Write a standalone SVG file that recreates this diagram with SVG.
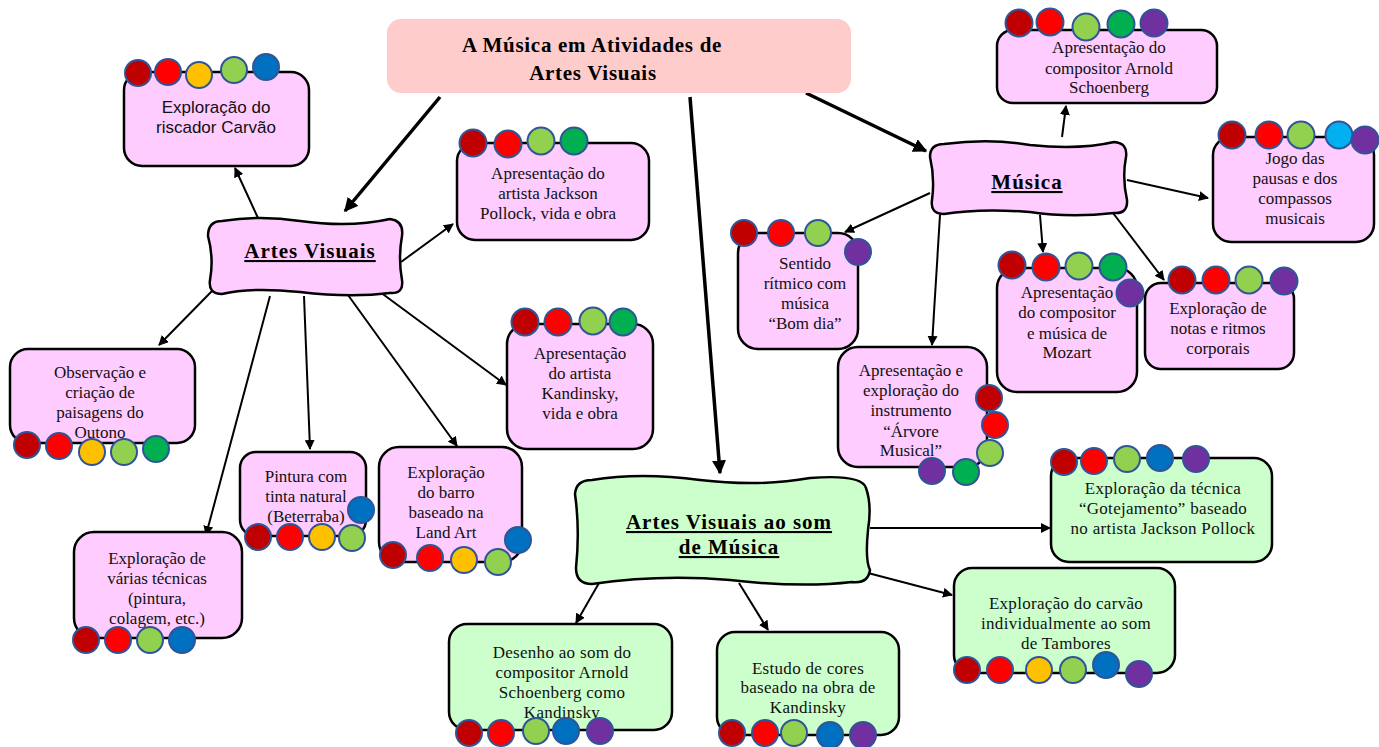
<svg xmlns="http://www.w3.org/2000/svg" width="1379" height="747" viewBox="0 0 1379 747">
<defs>
<marker id="ah" viewBox="0 0 10 10" refX="9" refY="5" markerWidth="5" markerHeight="5" orient="auto" markerUnits="strokeWidth"><path d="M0,0 L10,5 L0,10 Z" fill="#000"/></marker>
<marker id="ahb" viewBox="0 0 10 10" refX="9" refY="5" markerWidth="4" markerHeight="4" orient="auto" markerUnits="strokeWidth"><path d="M0,0 L10,5 L0,10 Z" fill="#000"/></marker>
</defs>
<style>
.pk{fill:#FFCCFF;stroke:#000;stroke-width:2.5}
.gr{fill:#CCFFCC;stroke:#000;stroke-width:2.5}
.t{font-family:"Liberation Serif","Times New Roman",serif;font-size:17px;fill:#111;text-anchor:middle}
.tg{font-family:"Liberation Serif","Times New Roman",serif;font-size:17px;letter-spacing:0.3px;fill:#111;text-anchor:middle}
.ts{font-family:"Liberation Sans",Arial,sans-serif;font-size:17px;fill:#111;text-anchor:middle}
.tb{font-family:"Liberation Serif","Times New Roman",serif;font-size:21px;letter-spacing:0.7px;font-weight:bold;fill:#000;text-anchor:middle}
.tu{font-family:"Liberation Serif","Times New Roman",serif;font-size:21px;letter-spacing:1px;font-weight:bold;fill:#000;text-anchor:middle;text-decoration:underline}
.ln{stroke:#000;stroke-width:2;fill:none;marker-end:url(#ah)}
.lb{stroke:#000;stroke-width:3.5;fill:none;marker-end:url(#ahb)}
circle{stroke:#2F5597;stroke-width:2}
.c1{fill:#C00000}.c2{fill:#FF0000}.c3{fill:#FFC000}.c4{fill:#92D050}.c5{fill:#00B050}.c6{fill:#0070C0}.c7{fill:#7030A0}.c8{fill:#00B0F0}
</style>
<rect width="1379" height="747" fill="#fff"/>

<g id="connectors">
<line class="lb" x1="440" y1="97" x2="345" y2="211"/>
<line class="lb" x1="806" y1="93" x2="926" y2="151"/>
<line class="lb" x1="690" y1="97" x2="720" y2="473"/>
<line class="ln" x1="258" y1="218" x2="235" y2="168"/>
<line class="ln" x1="401" y1="262" x2="453" y2="224"/>
<line class="ln" x1="212" y1="291" x2="159" y2="345"/>
<line class="ln" x1="270" y1="296" x2="206" y2="535"/>
<line class="ln" x1="304" y1="296" x2="310" y2="449"/>
<line class="ln" x1="348" y1="295" x2="457" y2="446"/>
<line class="ln" x1="380" y1="292" x2="506" y2="385"/>
<line class="ln" x1="1062" y1="137" x2="1066" y2="106"/>
<line class="ln" x1="1127" y1="180" x2="1208" y2="198"/>
<line class="ln" x1="930" y1="193" x2="845" y2="232"/>
<line class="ln" x1="940" y1="215" x2="932" y2="345"/>
<line class="ln" x1="1040" y1="215" x2="1043" y2="252"/>
<line class="ln" x1="1113" y1="213" x2="1164" y2="280"/>
<line class="ln" x1="870" y1="528" x2="1050" y2="528"/>
<line class="ln" x1="868" y1="573" x2="952" y2="595"/>
<line class="ln" x1="599" y1="583" x2="576" y2="623"/>
<line class="ln" x1="739" y1="583" x2="768" y2="630"/>
</g>

<g id="title">
<rect x="387" y="19" width="464" height="74" rx="14" fill="#FFCCCC"/>
<text class="tb" x="592" y="52">A Música em Atividades de</text>
<text class="tb" x="593" y="80">Artes Visuais</text>
</g>

<g id="artes-visuais">
<path class="pk" d="M222 221 Q260 215 300 221 Q350 228 390 219 Q404 221 402 236 Q398 258 402 280 Q404 294 390 293 Q350 298 300 292 Q250 287 222 294 Q208 294 210 280 Q214 258 208 236 Q208 221 222 221 Z"/>
<text class="tu" x="310" y="258">Artes Visuais</text>
</g>

<g id="musica">
<path class="pk" d="M944 144 Q990 138 1030 145 Q1080 150 1114 142 Q1128 143 1126 157 Q1122 178 1127 200 Q1128 214 1114 213 Q1070 218 1030 212 Q980 208 944 214 Q930 214 932 200 Q935 178 930 157 Q930 144 944 144 Z"/>
<text class="tu" x="1027" y="189">Música</text>
</g>

<g id="artes-visuais-som">
<path class="gr" d="M592 480 Q640 472 700 480 Q760 487 810 478 Q862 474 866 488 Q872 505 868 530 Q865 560 870 570 Q868 584 852 582 Q800 588 730 580 Q660 574 592 584 Q576 584 576 568 Q580 530 575 494 Q576 480 592 480 Z"/>
<text class="tu" x="729" y="529">Artes Visuais ao som</text>
<text class="tu" x="729" y="554">de Música</text>
</g>

<g id="carvao">
<rect class="pk" x="124" y="72" width="185" height="94" rx="18"/>
<circle class="c1" cx="138" cy="73" r="13"/><circle class="c2" cx="168" cy="72" r="13"/><circle class="c3" cx="199" cy="75" r="13"/><circle class="c4" cx="234" cy="70" r="13"/><circle class="c6" cx="266" cy="67" r="13"/>
<text class="ts" x="216" y="113">Exploração do</text>
<text class="ts" x="216" y="133">riscador Carvão</text>
</g>

<g id="pollock">
<rect class="pk" x="457" y="143" width="192" height="97" rx="18"/>
<circle class="c1" cx="473" cy="143" r="13.5"/><circle class="c2" cx="508" cy="144" r="13.5"/><circle class="c4" cx="541" cy="141" r="13.5"/><circle class="c5" cx="574" cy="141" r="13.5"/>
<text class="t" x="548" y="179">Apresentação do</text>
<text class="t" x="548" y="199">artista Jackson</text>
<text class="t" x="548" y="219">Pollock, vida e obra</text>
</g>

<g id="kandinsky">
<rect class="pk" x="507" y="324" width="146" height="125" rx="20"/>
<circle class="c1" cx="525" cy="322" r="13.5"/><circle class="c2" cx="558" cy="322" r="13.5"/><circle class="c4" cx="593" cy="321" r="13.5"/><circle class="c5" cx="623" cy="322" r="13.5"/>
<text class="t" x="580" y="359">Apresentação</text>
<text class="t" x="580" y="379">do artista</text>
<text class="t" x="580" y="399">Kandinsky,</text>
<text class="t" x="580" y="419">vida e obra</text>
</g>

<g id="observacao">
<rect class="pk" x="10" y="349" width="185" height="94" rx="18"/>
<text class="t" x="100" y="378">Observação e</text>
<text class="t" x="100" y="398">criação de</text>
<text class="t" x="100" y="418">paisagens do</text>
<text class="t" x="100" y="438">Outono</text>
<circle class="c1" cx="27" cy="445" r="13"/><circle class="c2" cx="59" cy="446" r="13"/><circle class="c3" cx="92" cy="452" r="13"/><circle class="c4" cx="124" cy="452" r="13"/><circle class="c5" cx="156" cy="449" r="13"/>
</g>

<g id="pintura">
<rect class="pk" x="240" y="452" width="126" height="84" rx="16"/>
<text class="t" x="306" y="482">Pintura com</text>
<text class="t" x="306" y="502">tinta natural</text>
<text class="t" x="306" y="522">(Beterraba)</text>
<circle class="c6" cx="361" cy="510" r="13"/>
<circle class="c1" cx="258" cy="537" r="13"/><circle class="c2" cx="290" cy="537" r="13"/><circle class="c3" cx="322" cy="537" r="13"/><circle class="c4" cx="352" cy="538" r="13"/>
</g>

<g id="barro">
<rect class="pk" x="379" y="447" width="143" height="115" rx="20"/>
<text class="t" x="446" y="478">Exploração</text>
<text class="t" x="446" y="498">do barro</text>
<text class="t" x="446" y="518">baseado na</text>
<text class="t" x="446" y="538">Land Art</text>
<circle class="c6" cx="518" cy="540" r="13"/>
<circle class="c1" cx="393" cy="555" r="13"/><circle class="c2" cx="430" cy="558" r="13"/><circle class="c3" cx="464" cy="560" r="13"/><circle class="c4" cx="498" cy="562" r="13"/>
</g>

<g id="varias">
<rect class="pk" x="74" y="532" width="168" height="106" rx="20"/>
<text class="t" x="157" y="564">Exploração de</text>
<text class="t" x="157" y="584">várias técnicas</text>
<text class="t" x="157" y="604">(pintura,</text>
<text class="t" x="157" y="624">colagem, etc.)</text>
<circle class="c1" cx="86" cy="640" r="13"/><circle class="c2" cx="118" cy="640" r="13"/><circle class="c4" cx="150" cy="640" r="13"/><circle class="c6" cx="182" cy="640" r="13"/>
</g>

<g id="schoenberg">
<rect class="pk" x="997" y="30" width="220" height="73" rx="16"/>
<circle class="c1" cx="1019" cy="23" r="13.5"/><circle class="c2" cx="1050" cy="22" r="13.5"/><circle class="c4" cx="1086" cy="27" r="13.5"/><circle class="c5" cx="1121" cy="24" r="13.5"/><circle class="c7" cx="1154" cy="23" r="13.5"/>
<text class="t" x="1109" y="53">Apresentação do</text>
<text class="t" x="1109" y="74">compositor Arnold</text>
<text class="t" x="1109" y="93">Schoenberg</text>
</g>

<g id="jogo">
<rect class="pk" x="1213" y="137" width="161" height="105" rx="18"/>
<circle class="c1" cx="1232" cy="135" r="13.5"/><circle class="c2" cx="1269" cy="135" r="13.5"/><circle class="c4" cx="1301" cy="135" r="13.5"/><circle class="c8" cx="1339" cy="135" r="13.5"/><circle class="c7" cx="1365" cy="140" r="13.5"/>
<text class="t" x="1295" y="164">Jogo das</text>
<text class="t" x="1295" y="184">pausas e dos</text>
<text class="t" x="1295" y="204">compassos</text>
<text class="t" x="1295" y="224">musicais</text>
</g>

<g id="sentido">
<rect class="pk" x="738" y="233" width="120" height="116" rx="20"/>
<circle class="c1" cx="744" cy="233" r="13"/><circle class="c2" cx="781" cy="233" r="13"/><circle class="c4" cx="818" cy="233" r="13"/><circle class="c7" cx="858" cy="252" r="13"/>
<text class="t" x="805" y="269">Sentido</text>
<text class="t" x="805" y="289">rítmico com</text>
<text class="t" x="805" y="309">música</text>
<text class="t" x="805" y="329">“Bom dia”</text>
</g>

<g id="arvore">
<rect class="pk" x="838" y="347" width="149" height="120" rx="20"/>
<text class="t" x="911" y="376">Apresentação e</text>
<text class="t" x="911" y="396">exploração do</text>
<text class="t" x="911" y="416">instrumento</text>
<text class="t" x="911" y="437">“Árvore</text>
<text class="t" x="911" y="456">Musical”</text>
<circle class="c1" cx="989" cy="398" r="13"/><circle class="c2" cx="995" cy="425" r="13"/><circle class="c4" cx="990" cy="453" r="13"/>
<circle class="c7" cx="932" cy="471" r="13"/><circle class="c5" cx="966" cy="472" r="13"/>
</g>

<g id="mozart">
<rect class="pk" x="997" y="268" width="140" height="124" rx="20"/>
<circle class="c1" cx="1012" cy="265" r="13.5"/><circle class="c2" cx="1046" cy="267" r="13.5"/><circle class="c4" cx="1079" cy="266" r="13.5"/><circle class="c5" cx="1113" cy="267" r="13.5"/><circle class="c7" cx="1130" cy="293" r="13.5"/>
<text class="t" x="1067" y="298">Apresentação</text>
<text class="t" x="1067" y="318">do compositor</text>
<text class="t" x="1067" y="339">e música de</text>
<text class="t" x="1067" y="358">Mozart</text>
</g>

<g id="notas">
<rect class="pk" x="1145" y="283" width="149" height="86" rx="16"/>
<circle class="c1" cx="1182" cy="280" r="13.5"/><circle class="c2" cx="1216" cy="280" r="13.5"/><circle class="c4" cx="1249" cy="280" r="13.5"/><circle class="c7" cx="1284" cy="281" r="13.5"/>
<text class="t" x="1218" y="314">Exploração de</text>
<text class="t" x="1218" y="334">notas e ritmos</text>
<text class="t" x="1218" y="354">corporais</text>
</g>

<g id="gotejamento">
<rect class="gr" x="1051" y="458" width="221" height="104" rx="18"/>
<circle class="c1" cx="1064" cy="462" r="13"/><circle class="c2" cx="1094" cy="461" r="13"/><circle class="c4" cx="1127" cy="459" r="13"/><circle class="c6" cx="1160" cy="458" r="13"/><circle class="c7" cx="1196" cy="459" r="13"/>
<text class="tg" x="1163" y="494">Exploração da técnica</text>
<text class="tg" x="1163" y="514">“Gotejamento” baseado</text>
<text class="tg" x="1163" y="534">no artista Jackson Pollock</text>
</g>

<g id="tambores">
<rect class="gr" x="954" y="568" width="221" height="105" rx="18"/>
<text class="tg" x="1066" y="609">Exploração do carvão</text>
<text class="tg" x="1066" y="629">individualmente ao som</text>
<text class="tg" x="1066" y="649">de Tambores</text>
<circle class="c1" cx="967" cy="670" r="13"/><circle class="c2" cx="1000" cy="670" r="13"/><circle class="c3" cx="1039" cy="670" r="13"/><circle class="c4" cx="1073" cy="670" r="13"/><circle class="c6" cx="1106" cy="665" r="13"/><circle class="c7" cx="1139" cy="674" r="13"/>
</g>

<g id="desenho">
<rect class="gr" x="449" y="624" width="223" height="106" rx="18"/>
<text class="tg" x="562" y="658">Desenho ao som do</text>
<text class="tg" x="562" y="678">compositor Arnold</text>
<text class="tg" x="562" y="698">Schoenberg como</text>
<text class="tg" x="562" y="718">Kandinsky</text>
<circle class="c1" cx="469" cy="733" r="13"/><circle class="c2" cx="501" cy="733" r="13"/><circle class="c4" cx="536" cy="731" r="13"/><circle class="c6" cx="566" cy="731" r="13"/><circle class="c7" cx="600" cy="731" r="13"/>
</g>

<g id="estudo">
<rect class="gr" x="717" y="632" width="182" height="103" rx="18"/>
<text class="tg" x="808" y="674">Estudo de cores</text>
<text class="tg" x="808" y="693">baseado na obra de</text>
<text class="tg" x="808" y="713">Kandinsky</text>
<circle class="c1" cx="732" cy="733" r="13"/><circle class="c2" cx="765" cy="733" r="13"/><circle class="c4" cx="794" cy="733" r="13"/><circle class="c6" cx="830" cy="735" r="13"/><circle class="c7" cx="863" cy="735" r="13"/>
</g>
</svg>
